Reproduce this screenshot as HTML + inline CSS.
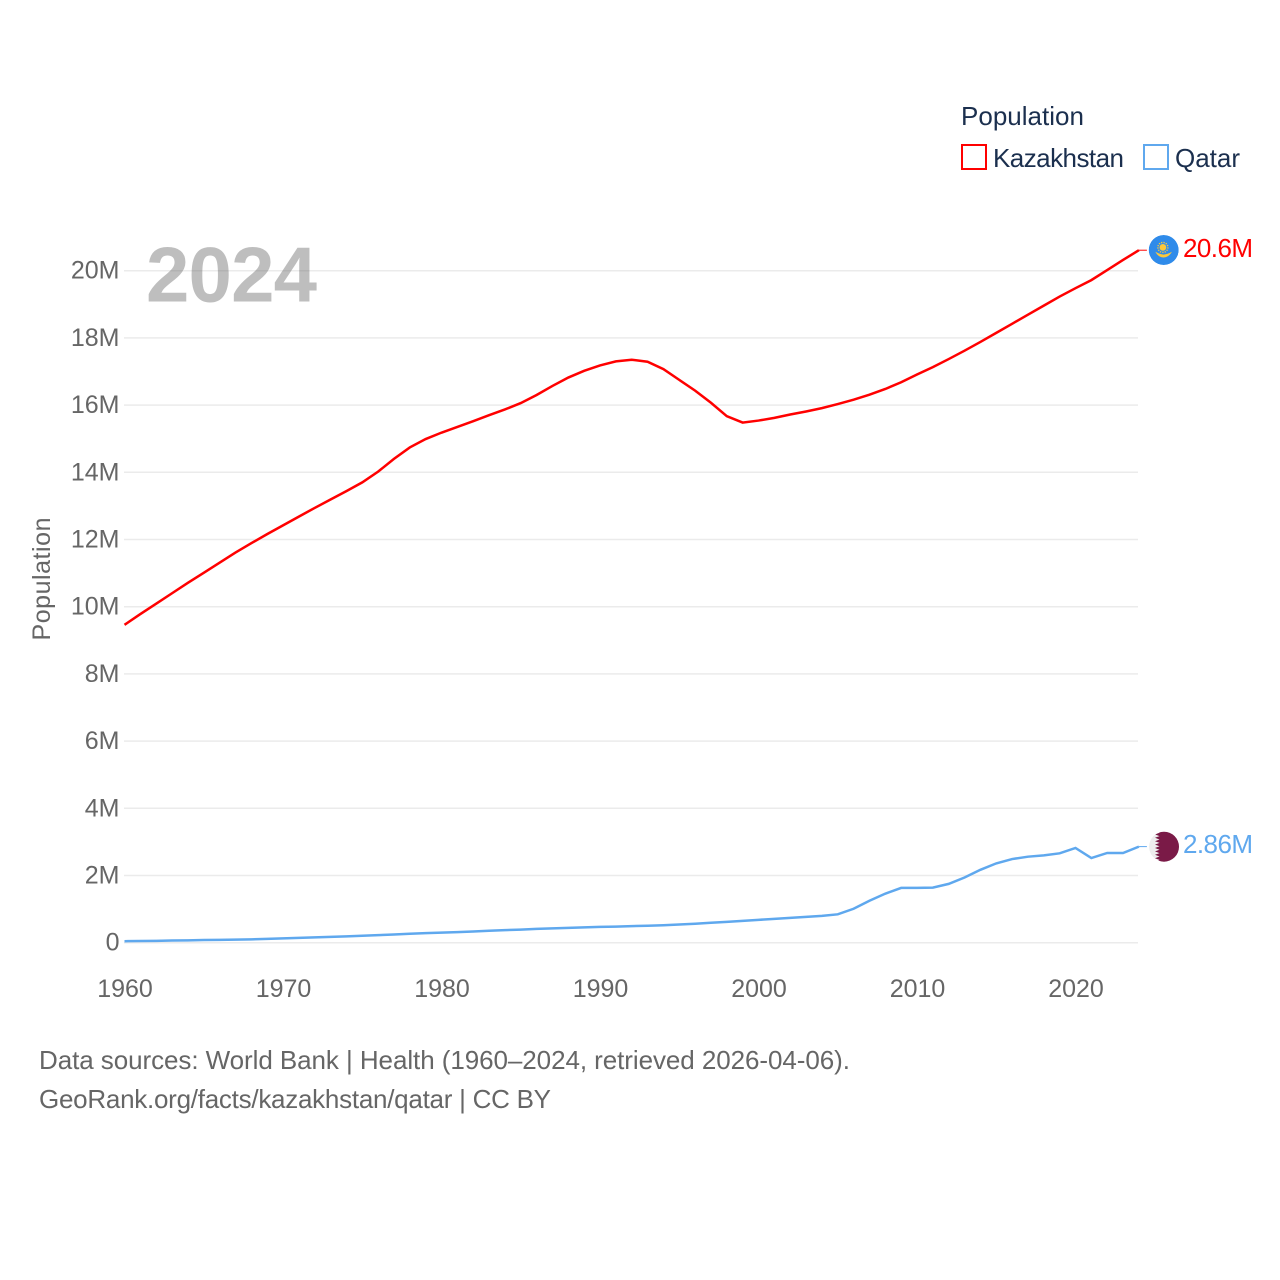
<!DOCTYPE html>
<html lang="en">
<head>
<meta charset="utf-8">
<title>Population: Kazakhstan and Qatar</title>
<style>
  html, body { margin: 0; padding: 0; background: #fff; }
  svg { display: block; font-family: "Liberation Sans", sans-serif; }
  .tick { font-size: 25px; fill: #666; }
  .legend { font-size: 26px; fill: #1b2f4e; }
  .source { font-size: 26px; fill: #666; }
  .end-label { font-size: 26px; }
</style>
</head>
<body>
<svg id="chart" width="1280" height="1280" viewBox="0 0 1280 1280" xmlns="http://www.w3.org/2000/svg">
  <defs>
    <clipPath id="flag-kz-clip"><circle cx="1163.7" cy="250" r="15"/></clipPath>
    <clipPath id="flag-qa-clip"><circle cx="1164" cy="846.7" r="15"/></clipPath>
  </defs>

  <text class="legend" x="961" y="125" textLength="123" lengthAdjust="spacing">Population</text>
  <g>
    <rect x="962" y="145" width="24" height="24" fill="#fff" stroke="#ff0000" stroke-width="2"/>
    <text class="legend" x="993" y="167" textLength="131" lengthAdjust="spacing">Kazakhstan</text>
  </g>
  <g>
    <rect x="1144" y="145" width="24" height="24" fill="#fff" stroke="#5fa8ee" stroke-width="2"/>
    <text class="legend" x="1175" y="167" textLength="65" lengthAdjust="spacing">Qatar</text>
  </g>

  <g id="grid"></g>
  <g id="y-axis"></g>
  <g id="x-axis"></g>

  <text class="tick" text-anchor="middle" transform="translate(50 579) rotate(-90)" textLength="123" lengthAdjust="spacing">Population</text>

  <text x="146" y="301.5" font-size="78" font-weight="700" fill="rgba(100,100,100,0.42)" textLength="171" lengthAdjust="spacing">2024</text>

  <g id="series"></g>

  <g clip-path="url(#flag-kz-clip)">
    <circle cx="1163.7" cy="250" r="15" fill="#2f8bea"/>
    <circle cx="1162.9" cy="247.4" r="3.4" fill="#fcc83a"/>
    <circle cx="1162.9" cy="247.4" r="5" fill="none" stroke="#fcc83a" stroke-width="1.4" stroke-dasharray="1.2 1.2"/>
    <path d="M1155.3 251.8 Q1160 254.3 1163.5 254.6 Q1167.5 254.3 1172 251.8 Q1168.5 257.5 1163.5 257.5 Q1158.5 257.5 1155.3 251.8 Z" fill="#fcc83a"/>
  </g>
  <g clip-path="url(#flag-qa-clip)">
    <circle cx="1164" cy="846.7" r="15" fill="#eeeeee"/>
    <polygon fill="#7a1a47" points="1155,831 1159.5,832.7 1155,834.4 1159.5,836.1 1155,837.8 1159.5,839.5 1155,841.2 1159.5,842.9 1155,844.6 1159.5,846.3 1155,848 1159.5,849.7 1155,851.4 1159.5,853.1 1155,854.8 1159.5,856.5 1155,858.2 1159.5,859.9 1155,862 1181,862 1181,831"/>
  </g>

  <text id="end-label-kazakhstan" class="end-label" x="1183" y="257" fill="#ff0000" textLength="70" lengthAdjust="spacing">20.6M</text>
  <text id="end-label-qatar" class="end-label" x="1183" y="853" fill="#5fa8ee" textLength="70" lengthAdjust="spacing">2.86M</text>

  <text class="source" x="39" y="1069" textLength="811" lengthAdjust="spacing">Data sources: World Bank | Health (1960–2024, retrieved 2026-04-06).</text>
  <text class="source" x="39" y="1108" textLength="512" lengthAdjust="spacing">GeoRank.org/facts/kazakhstan/qatar | CC BY</text>
</svg>

<script>
const startYear = 1960;
const xTickYears = [1960, 1970, 1980, 1990, 2000, 2010, 2020];
const yTickValues = [0, 2, 4, 6, 8, 10, 12, 14, 16, 18, 20];
const yTickLabels = ["0", "2M", "4M", "6M", "8M", "10M", "12M", "14M", "16M", "18M", "20M"];

// Population in millions, one value per year from 1960 to 2024
const kazakhstanValues = [
  9.46, 9.78, 10.09, 10.40, 10.71, 11.01, 11.31, 11.61, 11.89, 12.16,
  12.42, 12.68, 12.94, 13.19, 13.44, 13.70, 14.02, 14.40, 14.74, 14.99,
  15.18, 15.35, 15.52, 15.70, 15.87, 16.06, 16.30, 16.57, 16.82, 17.02,
  17.18, 17.30, 17.35, 17.29, 17.07, 16.75, 16.43, 16.07, 15.67, 15.48,
  15.54, 15.62, 15.72, 15.81, 15.91, 16.03, 16.16, 16.31, 16.48, 16.68,
  16.91, 17.13, 17.37, 17.62, 17.88, 18.15, 18.42, 18.69, 18.96, 19.23,
  19.48, 19.72, 20.02, 20.32, 20.61
];
const qatarValues = [
  0.045, 0.05, 0.055, 0.065, 0.07, 0.08, 0.085, 0.09, 0.10, 0.115,
  0.13, 0.145, 0.16, 0.175, 0.19, 0.205, 0.225, 0.245, 0.265, 0.285,
  0.30, 0.315, 0.335, 0.355, 0.375, 0.39, 0.41, 0.425, 0.44, 0.455,
  0.47, 0.48, 0.495, 0.505, 0.52, 0.54, 0.565, 0.595, 0.62, 0.65,
  0.68, 0.71, 0.74, 0.77, 0.80, 0.845, 1.01, 1.25, 1.46, 1.63,
  1.63, 1.64, 1.75, 1.94, 2.17, 2.36, 2.49, 2.56, 2.60, 2.66,
  2.82, 2.52, 2.67, 2.67, 2.86
];

const SVG_NS = "http://www.w3.org/2000/svg";
const xAxisLeft = 124.5;
const xPerYear = 15.85;
const yAxisZero = 942.7;
const yPerMillion = 33.6;
const plotRight = 1138;

function xScale(year) {
  return xAxisLeft + (year - startYear) * xPerYear;
}
function yScale(value) {
  return yAxisZero - value * yPerMillion;
}
function make(tag, parent) {
  const el = document.createElementNS(SVG_NS, tag);
  parent.appendChild(el);
  return el;
}

const gridGroup = document.getElementById("grid");
const yAxisGroup = document.getElementById("y-axis");
const xAxisGroup = document.getElementById("x-axis");
const seriesGroup = document.getElementById("series");

yTickValues.forEach(function (value, i) {
  const line = make("line", gridGroup);
  
  
  line.setAttribute("x1", 124);
  line.setAttribute("x2", plotRight);
  line.setAttribute("y1", yScale(value));
  line.setAttribute("y2", yScale(value));
  line.setAttribute("stroke", "#ebebeb");
  line.setAttribute("stroke-width", "1.5");

  const label = make("text", yAxisGroup);
  
  
  label.setAttribute("class", "tick");
  label.setAttribute("x", 119.5);
  label.setAttribute("y", yScale(value) + 8);
  label.setAttribute("text-anchor", "end");
  label.textContent = yTickLabels[i];
});

xTickYears.forEach(function (year) {
  const label = make("text", xAxisGroup);
  
  
  label.setAttribute("class", "tick");
  label.setAttribute("x", xScale(year) + 0.5);
  label.setAttribute("y", 997);
  label.setAttribute("text-anchor", "middle");
  label.textContent = String(year);
});

function pointsFor(values) {
  return values.map(function (value, i) {
    return xScale(startYear + i).toFixed(2) + "," + yScale(value).toFixed(2);
  }).join(" ");
}
function lastPoint(values) {
  const last = values.length - 1;
  return { x: xScale(startYear + last), y: yScale(values[last]) };
}

const kazakhstanLine = make("polyline", seriesGroup);


kazakhstanLine.setAttribute("points", pointsFor(kazakhstanValues));
kazakhstanLine.setAttribute("fill", "none");
kazakhstanLine.setAttribute("stroke", "#ff0000");
kazakhstanLine.setAttribute("stroke-width", "2.5");

const qatarLine = make("polyline", seriesGroup);


qatarLine.setAttribute("points", pointsFor(qatarValues));
qatarLine.setAttribute("fill", "none");
qatarLine.setAttribute("stroke", "#5fa8ee");
qatarLine.setAttribute("stroke-width", "2.5");

const kazakhstanEnd = lastPoint(kazakhstanValues);
const kazakhstanConnector = make("line", seriesGroup);


kazakhstanConnector.setAttribute("x1", kazakhstanEnd.x);
kazakhstanConnector.setAttribute("x2", kazakhstanEnd.x + 8);
kazakhstanConnector.setAttribute("y1", kazakhstanEnd.y);
kazakhstanConnector.setAttribute("y2", kazakhstanEnd.y);
kazakhstanConnector.setAttribute("stroke", "#ff0000");
kazakhstanConnector.setAttribute("stroke-width", "1");

const qatarEnd = lastPoint(qatarValues);
const qatarConnector = make("line", seriesGroup);


qatarConnector.setAttribute("x1", qatarEnd.x);
qatarConnector.setAttribute("x2", qatarEnd.x + 8);
qatarConnector.setAttribute("y1", qatarEnd.y);
qatarConnector.setAttribute("y2", qatarEnd.y);
qatarConnector.setAttribute("stroke", "#5fa8ee");
qatarConnector.setAttribute("stroke-width", "1");
</script>
</body>
</html>
